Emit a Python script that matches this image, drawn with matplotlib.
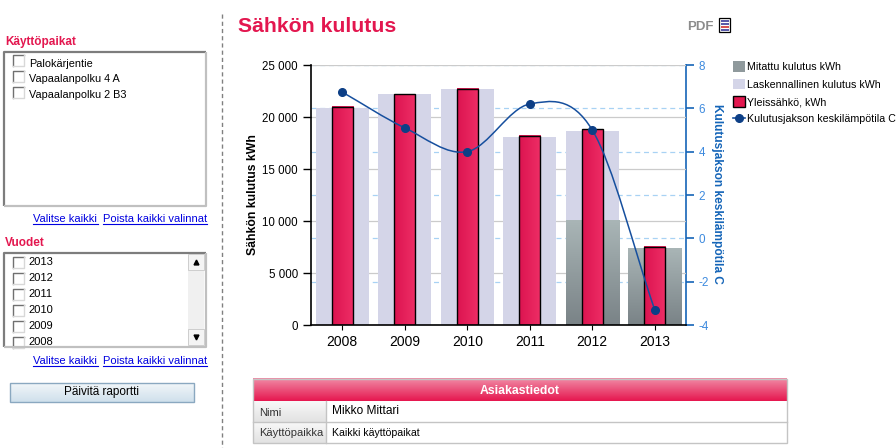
#!/usr/bin/env python3
"""Sähkön kulutus report page"""

import matplotlib
matplotlib.use("Agg")
import matplotlib.pyplot as plt
import numpy as np
from matplotlib.colors import LinearSegmentedColormap
from matplotlib.lines import Line2D
from matplotlib.patches import Patch, Rectangle
from matplotlib.path import Path
from matplotlib.patches import PathPatch

plt.rcParams['font.family'] = ['Liberation Sans', 'DejaVu Sans']

years = ['2008', '2009', '2010', '2011', '2012', '2013']
calculated = [20900, 22200, 22700, 18100, 18700, 7400]
measured = [0, 0, 0, 0, 10000, 7400]
general = [21000, 22200, 22700, 18200, 18800, 7500]
temperature = [6.75, 5.1, 4.0, 6.2, 5.0, -3.3]

kwh_ticks = [0, 5000, 10000, 15000, 20000, 25000]
kwh_tick_labels = ['0', '5 000', '10 000', '15 000', '20 000', '25 000']
temp_ticks = [-4, -2, 0, 2, 4, 6, 8]

places = ['Palokärjentie', 'Vapaalanpolku 4 A', 'Vapaalanpolku 2 B3']
year_options = ['2013', '2012', '2011', '2010', '2009', '2008']

CRIMSON = '#e3174f'
BLUE = '#1565b8'
W, H = 896, 448


def px_axes(fig, x0, y0, x1, y1, **kw):
    """axes from pixel corners, y counted from the top"""
    return fig.add_axes([x0 / W, 1 - y1 / H, (x1 - x0) / W, (y1 - y0) / H], **kw)


def gradient(ax, extent, c0, c1, vertical=True, clip=None, zorder=2):
    """gradient rectangle, c0 at top/left and c1 at bottom/right"""
    cmap = LinearSegmentedColormap.from_list('g', [c0, c1])
    data = np.linspace(0, 1, 64)
    data = data[:, None] if vertical else data[None, :]
    im = ax.imshow(data, extent=extent, origin='upper', cmap=cmap, aspect='auto',
                   zorder=zorder, interpolation='bilinear')
    if clip is not None:
        im.set_clip_path(clip)
    return im


def spline(xs, ys):
    """path through the points, tangents from the neighbours"""
    xs = np.asarray(xs, float)
    ys = np.asarray(ys, float)
    slopes = np.gradient(ys, xs)
    verts = [(xs[0], ys[0])]
    codes = [Path.MOVETO]
    for i in range(len(xs) - 1):
        dx = (xs[i + 1] - xs[i]) / 3
        verts += [(xs[i] + dx, ys[i] + slopes[i] * dx),
                  (xs[i + 1] - dx, ys[i + 1] - slopes[i + 1] * dx),
                  (xs[i + 1], ys[i + 1])]
        codes += [Path.CURVE4] * 3
    return Path(verts, codes)


fig = plt.figure(figsize=(W / 100, H / 100), dpi=100)

# page furniture, in pixels
page = px_axes(fig, 0, 0, W, H, zorder=0)
page.set_xlim(0, W)
page.set_ylim(H, 0)
page.axis('off')


def sunken_box(x0, y0, x1, y1):
    page.add_patch(Rectangle((x0, y0), x1 - x0, y1 - y0, fc='white', ec='none'))
    page.plot([x0, x0, x1], [y1, y0, y0], color='#7d7d7d', lw=1.6, solid_capstyle='butt')
    page.plot([x0, x1, x1], [y1, y1, y0], color='#c0c0c0', lw=1.6, solid_capstyle='butt')


def checkbox(x, y):
    page.plot([x, x, x + 11], [y + 11, y, y], color='#707070', lw=1)
    page.plot([x, x + 11, x + 11], [y + 11, y + 11, y], color='#d8d8d8', lw=1)


def link(x0, x1, y, text):
    page.text(x0, y, text, color='#0000e0', fontsize=8.0, va='center')
    page.plot([x0, x1], [y + 5.5, y + 5.5], color='#0000e0', lw=0.8)


page.plot([222, 222], [14, H], color='#808080', lw=1, ls=(0, (3, 2.2)))

page.text(5, 42, 'Käyttöpaikat', color=CRIMSON, fontsize=8.5, fontweight='bold', va='center')
sunken_box(3.5, 52, 206, 206)
for i, name in enumerate(places):
    checkbox(13, 55.5 + i * 16)
    page.text(29, 64 + i * 15.3, name, fontsize=7.8, va='center')
link(33, 98, 218.5, 'Valitse kaikki')
link(103, 207, 218.5, 'Poista kaikki valinnat')

page.text(5, 243, 'Vuodet', color=CRIMSON, fontsize=8.5, fontweight='bold', va='center')
sunken_box(3.5, 253, 206, 347)
for i, name in enumerate(year_options):
    checkbox(13, 257.5 + i * 16)
    page.text(28, 262 + i * 16, name, fontsize=8, va='center')
page.add_patch(Rectangle((3.5, 346.2), 184, 1.6, fc='#c0c0c0', ec='none', zorder=3))
page.add_patch(Rectangle((188, 254.5), 16, 91, fc='#f0f0f0', ec='none', zorder=3))
page.add_patch(Rectangle((188, 254.5), 16, 16, fc='#f4f4f4', ec='#c8c8c8', lw=0.6, zorder=3))
page.add_patch(Rectangle((188, 329.5), 16, 16, fc='#f4f4f4', ec='#c8c8c8', lw=0.6, zorder=3))
page.plot([196], [262.5], marker='^', ms=3.5, color='black', zorder=4)
page.plot([196], [337.5], marker='v', ms=3.5, color='black', zorder=4)
link(33, 98, 360.5, 'Valitse kaikki')
link(103, 207, 360.5, 'Poista kaikki valinnat')

gradient(page, (9.5, 193.5, 402.5, 383.5), '#f2f6f9', '#cfe0ec')
page.add_patch(Rectangle((9.5, 383.5), 184, 19, fc='none', ec='#8aa8c0', lw=1, zorder=3))
page.text(101, 392, 'Päivitä raportti', fontsize=8.5, ha='center', va='center', zorder=4)

page.text(237.5, 27, 'Sähkön kulutus', color=CRIMSON, fontsize=15.3, fontweight='bold', va='center')
page.text(687, 26.5, 'PDF', color='#8c8c8c', fontsize=9.5, fontweight='bold', va='center')
page.add_patch(Rectangle((718.5, 18.5), 11.5, 14, fc='white', ec='black', lw=0.9, zorder=3))
for y, c in [(21, '#3a3a9a'), (24, '#3a3a9a'), (27, '#d03030'), (30, '#3a3a9a')]:
    page.plot([720.5, 728.5], [y, y], color=c, lw=1.2, zorder=4, solid_capstyle='butt')

# customer table
gradient(page, (253, 787, 401.5, 379), '#f08ba6', '#e6174f')
page.text(520, 391, 'Asiakastiedot', color='white', fontsize=8.8, fontweight='bold',
          ha='center', va='center', zorder=4)
gradient(page, (253, 326, 422, 401.5), '#f8f8f8', '#e2e2e2')
gradient(page, (253, 326, 443.5, 422.5), '#f8f8f8', '#e2e2e2')
page.add_patch(Rectangle((253, 379), 534, 64.5, fc='none', ec='#c4c4c4', lw=1, zorder=3))
page.plot([253, 787], [422.5, 422.5], color='#c4c4c4', lw=1, zorder=3)
page.plot([326, 326], [401.5, 443.5], color='#c4c4c4', lw=1, zorder=3)
page.text(259, 413, 'Nimi', color='#333333', fontsize=8, va='center', zorder=4)
page.text(259, 433.5, 'Käyttöpaikka', color='#333333', fontsize=8, va='center', zorder=4)
page.text(332, 411.5, 'Mikko Mittari', fontsize=8.6, va='center', zorder=4)
page.text(332, 433.5, 'Kaikki käyttöpaikat', fontsize=7.6, va='center', zorder=4)
page.set_xlim(0, W)
page.set_ylim(H, 0)

# chart: dashed grid and right scale underneath, bars above, curve on top
ax_temp = px_axes(fig, 311, 65, 686, 325, zorder=1)
ax = ax_temp.twinx()
ax.set_zorder(2)
ax.patch.set_visible(False)
ax_line = ax_temp.twinx()
ax_line.set_zorder(3)
ax_line.patch.set_visible(False)

x = np.arange(len(years))
xlim = (-0.5, len(years) - 0.5)

ax_temp.set_xlim(*xlim)
ax_temp.set_ylim(-4, 8)
ax_temp.set_yticks(temp_ticks)
ax_temp.yaxis.tick_right()
ax_temp.yaxis.set_label_position('right')
ax_temp.set_yticklabels([str(t) for t in temp_ticks], color='#3d8ade', fontsize=8.4)
ax_temp.tick_params(axis='y', color=BLUE, length=6, width=1.2, pad=3)
ax_temp.grid(axis='y', color='#a8d2f4', ls=(0, (4, 3)), lw=0.9)
ax_temp.set_axisbelow(True)
ax_temp.set_ylabel('Kulutusjakson keskilämpötila C', color=BLUE, fontsize=8.6,
                   fontweight='bold', rotation=270, labelpad=10, y=0.505)
for side in ['left', 'top', 'bottom']:
    ax_temp.spines[side].set_visible(False)
ax_temp.spines['right'].set_color(BLUE)
ax_temp.spines['right'].set_linewidth(1.2)

ax.set_xlim(*xlim)
ax.set_ylim(0, 25000)
ax.yaxis.tick_left()
ax.yaxis.set_label_position('left')
ax.set_yticks(kwh_ticks)
ax.set_yticklabels(kwh_tick_labels, fontsize=8.3)
ax.set_xticks(x)
ax.set_xticklabels(years, fontsize=8.3)
ax.xaxis.tick_bottom()
ax.tick_params(axis='both', length=6, width=1, color='black')
ax.grid(axis='y', color='#cbcbcb', lw=0.9)
ax.set_axisbelow(True)
ax.set_ylabel('Sähkön kulutus kWh', fontsize=8.8, fontweight='bold', labelpad=2.5, y=0.5)
for side in ['right', 'top']:
    ax.spines[side].set_visible(False)
ax.spines['left'].set_linewidth(1.2)
ax.spines['bottom'].set_linewidth(1.2)

ax.bar(x, calculated, 0.85, color='#d4d5e8', zorder=2)
for xi, v in zip(x, measured):
    if v > 0:
        gradient(ax, (xi - 0.425, xi + 0.425, 0, v), '#a9b5b6', '#7a8387', zorder=2.2)
for bar in ax.bar(x, general, 0.34, fc='none', ec='black', lw=1.0, zorder=2.6):
    gradient(ax, (bar.get_x(), bar.get_x() + bar.get_width(), 0, bar.get_height()),
             '#dc1450', '#ee2e66', vertical=False, zorder=2.4)
ax.set_xlim(*xlim)
ax.set_ylim(0, 25000)

ax_line.set_xlim(*xlim)
ax_line.set_ylim(-4, 8)
ax_line.axis('off')
ax_line.add_patch(PathPatch(spline(x, temperature), fc='none', ec='#164f9e', lw=1.1))
ax_line.plot(x, temperature, ls='none', marker='o', ms=5.5, color='#0d3f86', clip_on=False)

handles = [
    Patch(fc='#8f999c', ec='none'),
    Patch(fc='#d4d5e8', ec='none'),
    Patch(fc=CRIMSON, ec='black', lw=1),
    Line2D([], [], color='#164f9e', lw=1.2, marker='o', ms=5.5, mfc='#0d3f86', mec='#0d3f86'),
]
labels = ['Mitattu kulutus kWh', 'Laskennallinen kulutus kWh', 'Yleissähkö, kWh',
          'Kulutusjakson keskilämpötila C']
ax_line.legend(handles, labels, loc='upper left', bbox_to_anchor=(733 / W, 1 - 61.5 / H),
               bbox_transform=fig.transFigure, frameon=False, fontsize=7.7, borderpad=0,
               borderaxespad=0, handlelength=1.15, handleheight=1.1, handletextpad=0.2,
               labelspacing=0.62)

plt.savefig('out.png', dpi=100)
